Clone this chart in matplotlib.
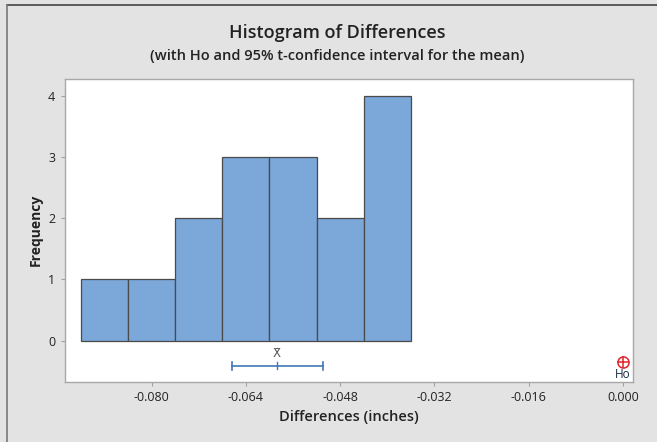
import matplotlib
matplotlib.use("Agg")
import matplotlib.pyplot as plt
from matplotlib.lines import Line2D
import numpy as np

# Data
bin_edges = [-0.092, -0.084, -0.076, -0.068, -0.060, -0.052, -0.044, -0.036]
counts = [1, 1, 2, 3, 3, 2, 4]
mean_val = -0.0587
ci_low = -0.0664
ci_high = -0.0509
h0 = 0.0
xticks = [-0.080, -0.064, -0.048, -0.032, -0.016, 0.000]
xtick_labels = ["-0.080", "-0.064", "-0.048", "-0.032", "-0.016", "0.000"]
yticks = [0, 1, 2, 3, 4]

plt.rcParams['font.family'] = ['Open Sans', 'DejaVu Sans']

bg = '#e3e3e3'
fig = plt.figure(figsize=(6.57, 4.42), dpi=100, facecolor=bg)
ax = fig.add_axes([65/657, 1-381.7/442, (633-65)/657, (381.7-79)/442])
ax.set_facecolor('white')

widths = np.diff(bin_edges)
ax.bar(bin_edges[:-1], counts, width=widths, align='edge',
       color='#7ba7d9', edgecolor='#4a4a4a', linewidth=0.9, zorder=2)

# CI bar
ci_y = -0.415
ax.plot([ci_low, ci_high], [ci_y, ci_y], color='#3f78b5', lw=1.2, zorder=3)
for xv in (ci_low, ci_high):
    ax.plot([xv, xv], [ci_y-0.07, ci_y+0.07], color='#3f78b5', lw=1.2, zorder=3)
ax.plot([mean_val, mean_val], [ci_y-0.05, ci_y+0.07], color='#3f78b5', lw=1.0, zorder=3)
ax.text(mean_val, ci_y+0.1, "X\u0304", ha='center', va='bottom', fontsize=8.5,
        color='#555555', family=['DejaVu Sans'])

# H0 marker
ax.plot([h0], [-0.345], marker='o', ms=8, mfc='none', mec='#e0252a', mew=1.1, zorder=4)
ax.plot([h0], [-0.345], marker='+', ms=8, mec='#e0252a', mew=1.1, zorder=4)
ax.text(h0, -0.44, "Ho", ha='center', va='top', fontsize=8.5, color='#1a2a44')

ax.set_xlim(-0.0947, 0.00173)
ax.set_ylim(-0.669, 4.27)
ax.set_xticks(xticks)
ax.set_xticklabels(xtick_labels)
ax.set_yticks(yticks)
ax.tick_params(axis='both', direction='out', length=3, width=0.8, color='#a0a0a0',
               labelsize=9, labelcolor='#222222')
ax.tick_params(axis='x', pad=4)
ax.tick_params(axis='y', pad=4)
for s in ax.spines.values():
    s.set_color('#a8a8a8')
    s.set_linewidth(1.0)

ax.set_xlabel("Differences (inches)", fontsize=10.5, fontweight='semibold', color='#222222', labelpad=4)
ax.set_ylabel("Frequency", fontsize=10, fontweight='bold', color='#222222', labelpad=4)

fig.text(337/657, 1-33/442, "Histogram of Differences", ha='center', va='center',
         fontsize=13, fontweight='semibold', color='#222222')
fig.text(337/657, 1-56/442, "(with Ho and 95% t-confidence interval for the mean)", ha='center',
         va='center', fontsize=10.5, fontweight='semibold', color='#222222')

# figure border lines (top and left)
fig.add_artist(Line2D([7/657, 1], [1-5/442, 1-5/442], transform=fig.transFigure, color='#444444', lw=1.2))
fig.add_artist(Line2D([7/657, 7/657], [0, 1-5/442], transform=fig.transFigure, color='#777777', lw=1.2))

fig.savefig("out.png", dpi=100, facecolor=bg)
